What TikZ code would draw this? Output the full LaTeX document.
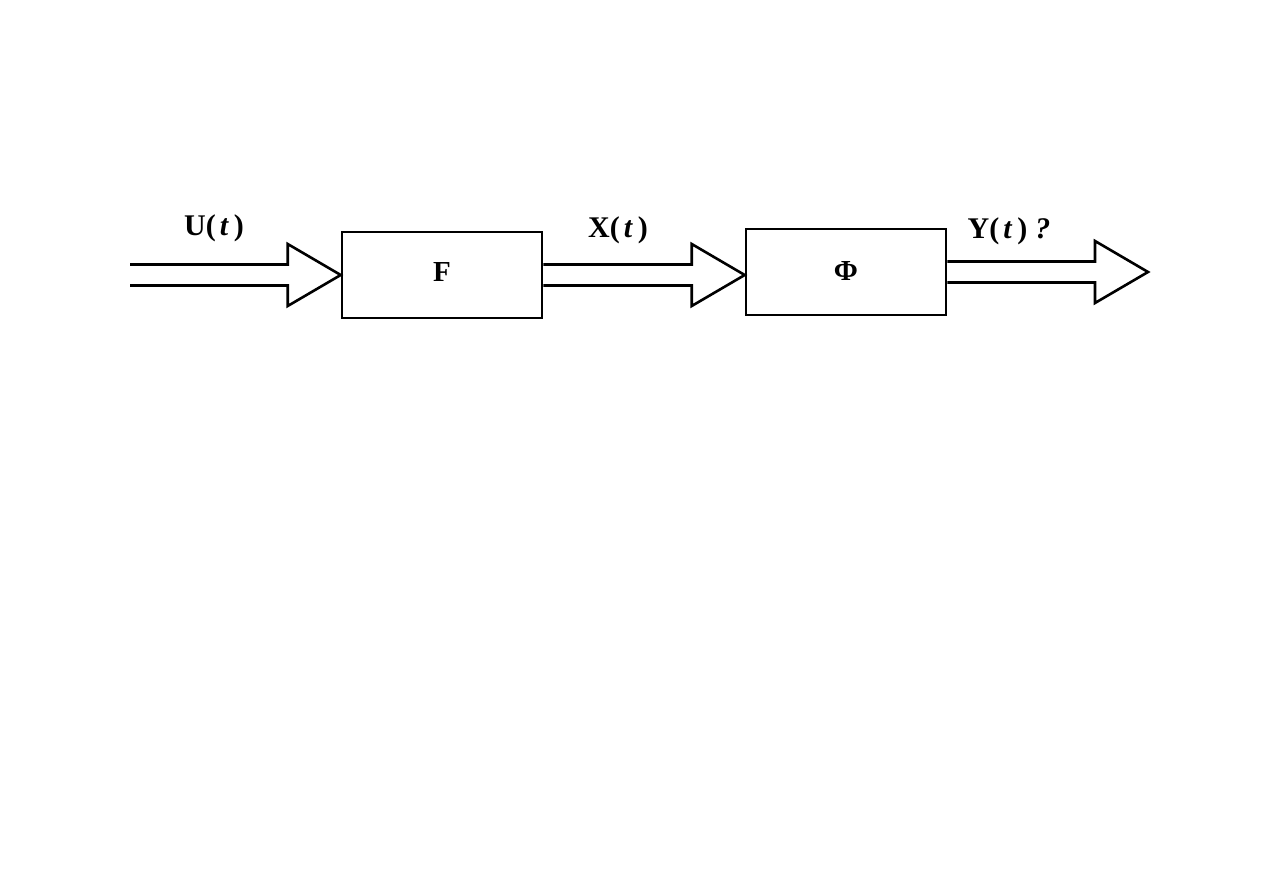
\documentclass[tikz,border=0pt]{standalone}
\usepackage{fontspec}
\setmainfont{Liberation Serif}
\usetikzlibrary{calc}
\tikzset{
  blockbox/.style={draw, line width=2.6pt, minimum width=200pt, minimum height=86pt, inner sep=0pt, font=\fontsize{29}{34}\selectfont\bfseries},
  sig/.style={font=\fontsize{30}{36}\selectfont\bfseries, inner sep=0pt},
  fat/.style={line width=2.6pt, line join=miter},
}
\newcommand{\fatarr}[2]{%
  \draw[fat] let \p1=(#1), \p2=(#2) in
    (\x1,{\y1+10.5pt}) -- ({\x2-53pt},{\y1+10.5pt}) -- ({\x2-53pt},{\y1+31pt})
    -- (\x2,\y1) -- ({\x2-53pt},{\y1-31pt}) -- ({\x2-53pt},{\y1-10.5pt}) -- (\x1,{\y1-10.5pt});}
\begin{document}
\begin{tikzpicture}[x=1pt,y=-1pt]
\useasboundingbox (0,0) rectangle (1263,893);
\node[blockbox] (F) at (442,275) {\raisebox{5pt}{F}\hspace{10pt}};
\node[blockbox] (P) at (846,272) {\raisebox{2pt}{Φ}\hspace{14pt}};
\coordinate (in) at (130,275);
\coordinate (out) at (1148,272);
\fatarr{in}{F.west}
\fatarr{F.east}{P.west}
\fatarr{P.east}{out}
\node[sig] (u) at (214,228) {U(\hspace{4pt}\textit{t}\hspace{5pt})};
\node[sig] (x) at (618,230) {X(\hspace{4pt}\textit{t}\hspace{5pt})};
\node[sig] (y) at (1009,231) {Y(\hspace{4pt}\textit{t}\hspace{5pt})\hspace{8pt}\textit{?}};
\end{tikzpicture}
\end{document}
